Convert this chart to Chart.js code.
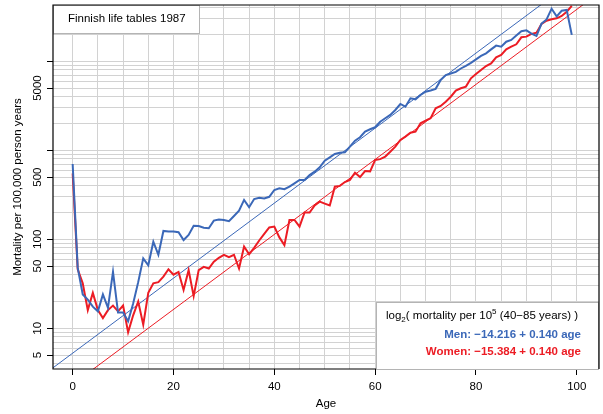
<!DOCTYPE html>
<html>
<head>
<meta charset="utf-8">
<script src="https://cdn.jsdelivr.net/npm/chart.js@4/dist/chart.umd.min.js"></script>
<style>
  html, body { margin: 0; padding: 0; background: #fff; }
</style>
</head>
<body>
<canvas id="lifeChart" width="603" height="414"></canvas>
<script>
// Age in completed years, 0..99
const ages = Array.from({ length: 100 }, (_, i) => i);

// Mortality per 100,000 person years, Finland 1987
const menRate = [
  700, 48, 24, 21, 17.5, 15.5, 24, 17, 43, 15,
  15, 12, 19, 33, 61, 51, 94, 67, 124, 122,
  122, 120, 98, 112, 142, 141, 135, 133, 162, 167,
  165, 160, 183, 210, 277, 229, 283, 292, 288, 300,
  358, 374, 365, 390, 425, 465, 464, 527, 575, 644,
  764, 834, 908, 940, 950, 1097, 1282, 1400, 1618, 1722,
  1813, 2094, 2290, 2495, 2838, 3313, 3093, 3840, 3740, 4180,
  4550, 4700, 4900, 6170, 7000, 7300, 7600, 8300, 8900, 9600,
  10500, 11500, 12300, 13600, 15000, 14600, 16600, 17400, 19500, 21800,
  22300, 20500, 19300, 26500, 29500, 39000, 32000, 37000, 37700, 19800
];
const womenRate = [
  550, 46, 32, 16, 25, 16, 13, 16, 18, 15.5,
  18, 9, 14, 20, 11, 25, 32, 33, 38, 46,
  40, 43, 27, 45, 23, 45, 49, 47, 56, 62,
  67, 63, 67, 47, 83, 68, 80, 97, 115, 136,
  139, 105, 86, 165, 165, 139, 200, 200, 240, 265,
  252, 240, 390, 398, 440, 465, 560, 500, 585, 580,
  780, 795, 850, 964, 1100, 1306, 1423, 1578, 1618, 2010,
  2150, 2290, 2970, 3150, 3520, 4000, 4680, 4975, 5190, 6440,
  7200, 7980, 8850, 9480, 11090, 11770, 13640, 14600, 15520, 18600,
  18920, 20280, 20960, 26240, 28600, 29650, 30400, 32280, 36060, 42000
];

// log2(mortality per 10^5) fitted over ages 40-85: intercept, slope
const menFit = [-14.216, 0.140];
const womenFit = [-15.384, 0.140];

// axis ticks and grid
const xGrid = [0, 5, 10, 15, 20, 25, 30, 35, 40, 45, 50, 55, 60, 65, 70, 75, 80, 85, 90, 95, 100];
const xLabels = [0, 20, 40, 60, 80, 100];
const yGrid = [4, 5, 6, 7, 8, 9, 10, 20, 30, 40, 50, 60, 70, 80, 90,
  100, 200, 300, 400, 500, 600, 700, 800, 900,
  1000, 2000, 3000, 4000, 5000, 6000, 7000, 8000, 9000,
  10000, 20000, 30000, 40000];
const yTickMarks = [5, 10, 50, 100, 500, 1000, 5000, 10000];
const yLabels = [5, 10, 50, 100, 500, 5000];

const X_MIN = -3.9, X_MAX = 104.4;
const Y_MIN = 3.488, Y_MAX = 42900;

const MEN_COLOR = '#3b68b8';
const WOMEN_COLOR = '#ec1c24';
const GRID_COLOR = '#d2d2d2';
const FONT = "'Liberation Sans', Arial, Helvetica, sans-serif";

Chart.defaults.font.family = FONT;
Chart.defaults.font.size = 11.5;
Chart.defaults.color = '#000';

const series = vals => ages.map((a, i) => ({ x: a, y: vals[i] }));
// fitted line on the rate scale, across the whole x range
const fitLine = ([b0, b1]) => [X_MIN - 1, X_MAX + 1].map(a => ({ x: a, y: 1e5 * Math.pow(2, b0 + b1 * a) }));
const fmt = v => v.toFixed(3).replace('-', '\u2212');

const boxes = {
  id: 'boxes',
  afterDraw(chart) {
    const { ctx, chartArea: a } = chart;
    ctx.save();

    // title box, top left
    ctx.fillStyle = '#fff';
    ctx.strokeStyle = '#b4b4b4';
    ctx.lineWidth = 1;
    ctx.fillRect(a.left, a.top, 146, 28);
    ctx.strokeRect(a.left + 0.5, a.top + 0.5, 146, 28);
    ctx.fillStyle = '#000';
    ctx.font = `11.5px ${FONT}`;
    ctx.textBaseline = 'alphabetic';
    ctx.textAlign = 'left';
    ctx.fillText('Finnish life tables 1987', 68, 21.5);

    // fit box, bottom right
    const lx = 376, ly = 302;
    ctx.fillStyle = '#fff';
    ctx.fillRect(lx, ly, a.right - lx, a.bottom - ly);
    ctx.strokeRect(lx + 0.5, ly + 0.5, a.right - lx - 1, a.bottom - ly);

    // frame
    ctx.strokeStyle = '#000';
    ctx.lineWidth = 1.2;
    ctx.beginPath();
    ctx.moveTo(lx, a.bottom);
    ctx.lineTo(a.left, a.bottom);
    ctx.lineTo(a.left, a.top);
    ctx.lineTo(a.right, a.top);
    ctx.lineTo(a.right, a.bottom);
    ctx.stroke();

    // first line with sub/superscripts
    const small = `8px ${FONT}`, normal = `11.5px ${FONT}`;
    let x = 386;
    const base1 = 319;
    ctx.fillStyle = '#000';
    const piece = (txt, font, dy) => {
      ctx.font = font;
      ctx.fillText(txt, x, base1 + dy);
      x += ctx.measureText(txt).width;
    };
    piece('log', normal, 0);
    piece('2', small, 3);
    piece('( mortality per 10', normal, 0);
    piece('5', small, -5);
    piece(' (40\u221285 years) )', normal, 0);

    ctx.textAlign = 'right';
    ctx.font = `bold 11.5px ${FONT}`;
    ctx.fillStyle = MEN_COLOR;
    ctx.fillText(`Men: ${fmt(menFit[0])} + ${menFit[1].toFixed(3)} age`, 581, 337.5);
    ctx.fillStyle = WOMEN_COLOR;
    ctx.fillText(`Women: ${fmt(womenFit[0])} + ${womenFit[1].toFixed(3)} age`, 581, 355);
    ctx.restore();
  }
};

new Chart(document.getElementById('lifeChart'), {
  type: 'line',
  data: {
    datasets: [
      { label: 'Men', data: series(menRate), borderColor: MEN_COLOR, borderWidth: 2, pointRadius: 0, tension: 0 },
      { label: 'Women', data: series(womenRate), borderColor: WOMEN_COLOR, borderWidth: 2, pointRadius: 0, tension: 0 },
      { label: 'Men fit', data: fitLine(menFit), borderColor: MEN_COLOR, borderWidth: 1, pointRadius: 0 },
      { label: 'Women fit', data: fitLine(womenFit), borderColor: WOMEN_COLOR, borderWidth: 1, pointRadius: 0 }
    ]
  },
  options: {
    responsive: false,
    animation: false,
    layout: { padding: { top: 5, right: 4, left: 0, bottom: 0 } },
    plugins: { legend: { display: false }, tooltip: { enabled: false } },
    scales: {
      x: {
        type: 'linear',
        min: X_MIN,
        max: X_MAX,
        afterBuildTicks: s => { s.ticks = xGrid.map(v => ({ value: v })); },
        afterFit: s => { s.height = 45; },
        ticks: {
          autoSkip: false,
          maxRotation: 0,
          padding: 5,
          callback: v => (xLabels.includes(v) ? String(v) : '')
        },
        grid: {
          color: GRID_COLOR,
          lineWidth: 1,
          tickLength: 6,
          tickColor: c => (c.tick && xLabels.includes(c.tick.value) ? '#000' : 'rgba(0,0,0,0)')
        },
        border: { display: false },
        title: { display: true, text: 'Age', padding: { top: 0, bottom: 2.8 } }
      },
      y: {
        type: 'logarithmic',
        min: Y_MIN,
        max: Y_MAX,
        afterBuildTicks: s => { s.ticks = yGrid.map(v => ({ value: v })); },
        afterFit: s => { s.width = 53; },
        ticks: {
          autoSkip: false,
          minRotation: 90,
          maxRotation: 90,
          crossAlign: 'center',
          padding: -3.5,
          callback: v => (yLabels.includes(v) ? String(v) : '')
        },
        grid: {
          color: GRID_COLOR,
          lineWidth: 1,
          tickLength: 6,
          tickColor: c => (c.tick && yTickMarks.includes(c.tick.value) ? '#000' : 'rgba(0,0,0,0)')
        },
        border: { display: false },
        title: {
          display: true,
          text: 'Mortality per 100,000 person years',
          padding: { top: 11.1, bottom: 0 }
        }
      }
    }
  },
  plugins: [boxes]
});
</script>
</body>
</html>
